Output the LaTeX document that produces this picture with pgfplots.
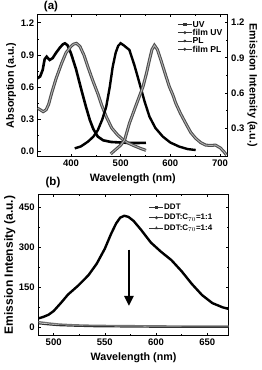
\documentclass[border=0pt]{standalone}
\usepackage{fontspec}
\setmainfont{Liberation Sans}
\usepackage{pgfplots}
\pgfplotsset{compat=1.18}
\usetikzlibrary{arrows.meta}

\newcommand{\tickfont}{\bfseries\fontsize{9.5}{10}\selectfont}
\newcommand{\lblfont}{\bfseries\fontsize{10.7}{12}\selectfont}

\pgfplotsset{
  base/.style={
    scale only axis,
    tick align=inside,
    axis line style={line width=0.7pt},
    every tick/.style={black, line width=0.6pt},
    major tick length=3pt,
    minor tick length=1.8pt,
    /pgf/number format/assume math mode=true,
    xticklabel style={font=\tickfont},
    yticklabel style={font=\tickfont},
    legend cell align=left,
    legend image code/.code={\draw[##1, mark repeat=2, mark phase=2] plot coordinates {(0pt,0pt) (7pt,0pt) (14pt,0pt)};},
  },
  filmline/.style={draw=black!70, double=black!30, double distance=0.9pt, line width=1.05pt},
}

\pgfplotstableread{
x y
333 0.683
338 0.70
343 0.76
347 0.86
351 0.884
357 0.853
363 0.87
370 0.92
378 0.97
384 1.0
388 1.008
393 0.99
400 0.915
410 0.77
421 0.574
430 0.42
438 0.294
445 0.21
454 0.14
465 0.105
481 0.09
500 0.085
527 0.08
551 0.082
}\uv

\pgfplotstableread{
x y
333 0.404
338 0.39
344 0.372
350 0.39
355 0.44
361 0.543
370 0.68
381 0.82
390 0.92
400 0.98
405 1.0
411 1.008
418 0.98
426 0.90
434 0.79
444 0.66
454 0.54
462 0.43
471 0.326
482 0.22
494 0.155
505 0.11
515 0.08
527 0.055
540 0.03
551 0.012
}\filmuv

\pgfplotstableread{
x y
407.6 0.126
420 0.143
434 0.183
445 0.226
454 0.281
463 0.373
471 0.483
478 0.649
484 0.823
490 0.943
495 1.002
500 1.024
506 1.007
517.6 0.967
528 0.832
538 0.682
548 0.529
558 0.397
570 0.300
585 0.226
600 0.176
618 0.141
635 0.120
651 0.112
}\pl

\pgfplotstableread{
x y
480 0.079
490 0.116
500 0.153
508 0.198
517.6 0.340
530 0.483
545 0.653
552 0.768
558 0.881
563 0.970
568 1.007
574 0.970
581 0.881
590 0.759
598 0.653
605 0.584
611 0.511
620 0.428
631 0.340
641 0.263
651 0.212
661 0.176
671 0.154
681 0.151
691 0.154
701 0.129
708 0.097
713 0.070
}\filmpl

\pgfplotstableread{
x y
485 32
490 38
495 46
500 60
507 90
514 122
524 156
534 195
542 238
550 295
556 350
561 390
565 412
569 419
573 415
578 400
585 368
595 318
605 283
615 252
625 210
635 162
645 120
655 90
665 74
671 68
}\ddt

\pgfplotstableread{
x y
485 20
495 15
505 11
520 8
540 6
570 5
600 4
640 3
671 3
}\ddtone

\pgfplotstableread{
x y
485 12
495 8
505 5
520 3
540 1
570 0
600 -1
640 -1
671 -1
}\ddtfour

\begin{document}
\begin{tikzpicture}[font=\bfseries]
\path[use as bounding box] (0pt,0pt) rectangle (262pt,370pt);

% ---------- panel (a), left axis ----------
\begin{axis}[base,
  at={(37.7pt,213.3pt)}, anchor=south west,
  width=190pt, height=142.7pt,
  xmin=333, xmax=715.5, ymin=-0.047, ymax=1.281,
  xtick={400,500,600,700}, minor x tick num=1,
  ytick={0,0.3,0.6,0.9,1.2}, minor y tick num=1, ytick pos=left,
  yticklabel style={/pgf/number format/fixed, /pgf/number format/fixed zerofill, /pgf/number format/precision=1},
  every axis x label/.style={at={(axis description cs:0.5,0)}, anchor=north, yshift=-14pt, font=\lblfont},
  xlabel={Wavelength (nm)},
  every axis y label/.style={at={(axis description cs:-0.14,0.5)}, anchor=center, rotate=90, font=\lblfont},
  ylabel={Absorption (a.u.)},
]
\addplot[black, line width=2.6pt] table[x=x,y=y] {\uv};
\addplot[filmline] table[x=x,y=y] {\filmuv};
\end{axis}

% ---------- panel (a), right axis ----------
\begin{axis}[base,
  at={(37.7pt,213.3pt)}, anchor=south west,
  width=190pt, height=142.7pt,
  xmin=333, xmax=715.5, ymin=0.055, ymax=1.274,
  hide x axis,
  axis y line*=right,
  ytick={0.3,0.6,0.9,1.2}, minor y tick num=1,
  yticklabel style={/pgf/number format/fixed, /pgf/number format/fixed zerofill, /pgf/number format/precision=1},
  every axis y label/.style={at={(axis description cs:1.13,0.5)}, anchor=center, rotate=-90, font=\lblfont},
  ylabel={Emission Intensity (a.u.)},
  legend style={draw=none, fill=none, at={(axis description cs:0.735,0.955)}, anchor=north west,
    font=\bfseries\fontsize{8.6}{8.6}\selectfont, row sep=0.8pt, inner sep=0pt,
    nodes={inner sep=0.5pt, text height=6pt, text depth=0.5pt}},
]
\addlegendimage{black!80, line width=0.6pt, mark=square*, mark size=1.2pt}
\addlegendentry{UV}
\addlegendimage{black!80, line width=0.6pt, mark=o, mark size=1.2pt, mark options={fill=white}}
\addlegendentry{film UV}
\addlegendimage{black!80, line width=0.6pt, mark=*, mark size=1pt}
\addlegendentry{PL}
\addlegendimage{black!80, line width=0.6pt, mark=o, mark size=1.2pt, mark options={fill=white}}
\addlegendentry{film PL}
\addplot[black, line width=2.4pt, forget plot] table[x=x,y=y] {\pl};
\addplot[filmline, forget plot] table[x=x,y=y] {\filmpl};
\end{axis}

\node[font=\bfseries\fontsize{11.5}{12}\selectfont] at (51pt,363pt) {(a)};
\node[font=\bfseries\fontsize{11.5}{12}\selectfont] at (53pt,187.5pt) {(b)};

% ---------- panel (b) ----------
\begin{axis}[base,
  at={(38.3pt,34.3pt)}, anchor=south west,
  width=190.4pt, height=141.4pt,
  xmin=485, xmax=671, ymin=-33, ymax=500,
  xtick={500,550,600,650}, minor x tick num=1,
  ytick={0,150,300,450}, minor y tick num=1,
  every axis x label/.style={at={(axis description cs:0.5,0)}, anchor=north, yshift=-14pt, font=\lblfont},
  xlabel={Wavelength (nm)},
  every axis y label/.style={at={(axis description cs:-0.15,0.5)}, anchor=center, rotate=90, font=\bfseries\fontsize{12}{13}\selectfont},
  ylabel={Emission Intensity (a.u.)},
  legend style={draw=none, fill=none, at={(axis description cs:0.581,0.94)}, anchor=north west,
    font=\bfseries\fontsize{8}{9}\selectfont, row sep=2pt, inner sep=0pt,
    nodes={inner sep=0.5pt, text height=6pt, text depth=1.5pt}},
]
\addlegendimage{black!80, line width=0.6pt, mark=square*, mark size=1.2pt}
\addlegendentry{DDT}
\addlegendimage{black!80, line width=0.6pt, mark=o, mark size=1.2pt, mark options={fill=white}}
\addlegendentry{DDT:C$_{70}$=1:1}
\addlegendimage{black!80, line width=0.6pt, mark=triangle, mark size=1.4pt, mark options={fill=white}}
\addlegendentry{DDT:C$_{70}$=1:4}
\addplot[black, line width=2.4pt, forget plot] table[x=x,y=y] {\ddt};
\addplot[black!55, line width=1.4pt, forget plot] table[x=x,y=y] {\ddtone};
\addplot[black!80, line width=1.2pt, forget plot] table[x=x,y=y] {\ddtfour};
\draw[line width=2.4pt, -{Triangle[width=9pt,length=10pt]}] (axis cs:573.5,291) -- (axis cs:573.5,79);
\end{axis}
\end{tikzpicture}
\end{document}
